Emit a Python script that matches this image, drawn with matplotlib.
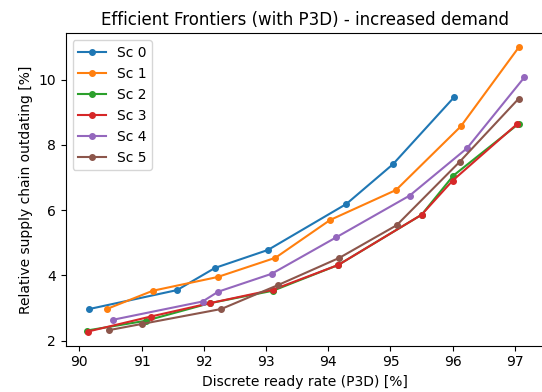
import matplotlib
matplotlib.use("Agg")
import matplotlib.pyplot as plt

# values
sc0_x = [90.16, 91.57, 92.18, 93.03, 94.29, 95.04, 96.02]
sc0_y = [2.97, 3.55, 4.23, 4.78, 6.19, 7.41, 9.46]

sc1_x = [90.44, 91.18, 92.22, 93.15, 94.03, 95.09, 96.13, 97.06]
sc1_y = [2.97, 3.53, 3.95, 4.54, 5.70, 6.62, 8.57, 10.99]

sc2_x = [90.12, 91.07, 92.10, 93.11, 94.16, 95.50, 96.01, 97.06]
sc2_y = [2.31, 2.61, 3.15, 3.53, 4.32, 5.86, 7.06, 8.65]

sc3_x = [90.14, 91.15, 92.10, 93.11, 94.16, 95.50, 96.00, 97.04]
sc3_y = [2.28, 2.74, 3.15, 3.56, 4.32, 5.86, 6.91, 8.65]

sc4_x = [90.54, 91.98, 92.23, 93.09, 94.13, 95.31, 96.23, 97.15]
sc4_y = [2.64, 3.20, 3.50, 4.05, 5.17, 6.45, 7.90, 10.07]

sc5_x = [90.47, 91.00, 92.28, 93.20, 94.18, 95.10, 96.11, 97.06]
sc5_y = [2.32, 2.51, 2.97, 3.71, 4.54, 5.54, 7.48, 9.42]

series = [
    ("Sc 0", sc0_x, sc0_y),
    ("Sc 1", sc1_x, sc1_y),
    ("Sc 2", sc2_x, sc2_y),
    ("Sc 3", sc3_x, sc3_y),
    ("Sc 4", sc4_x, sc4_y),
    ("Sc 5", sc5_x, sc5_y),
]

fig = plt.figure(figsize=(5.42, 3.92), dpi=100)
# the original figure was clipped on the right, so the axes run past the edge
ax = fig.add_axes([0.1212, 0.1181, 0.9, 0.797])

for label, xs, ys in series:
    ax.plot(xs, ys, marker="o", markersize=4, label=label)

ax.set_xlim(89.78, 97.62)
ax.set_title("Efficient Frontiers (with P3D) - increased demand", x=0.49)
ax.set_xlabel("Discrete ready rate (P3D) [%]", x=0.49)
ax.set_ylabel("Relative supply chain outdating [%]")
ax.legend(loc="upper left")

fig.savefig("out.png", dpi=100)
